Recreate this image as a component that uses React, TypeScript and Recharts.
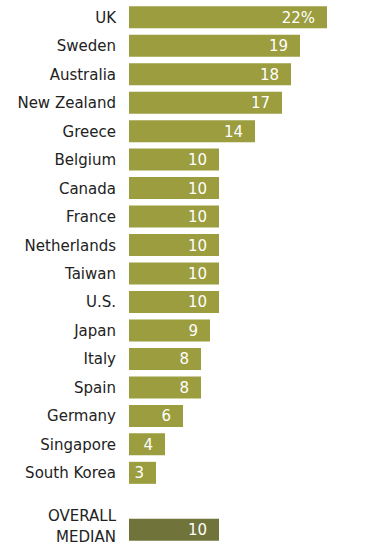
import React from 'react';
import { BarChart, Bar, XAxis, YAxis, Cell, LabelList } from 'recharts';

const countries = [
  'UK', 'Sweden', 'Australia', 'New Zealand', 'Greece', 'Belgium', 'Canada', 'France',
  'Netherlands', 'Taiwan', 'U.S.', 'Japan', 'Italy', 'Spain', 'Germany', 'Singapore',
  'South Korea', '', 'OVERALL MEDIAN',
];
const shares = [22, 19, 18, 17, 14, 10, 10, 10, 10, 10, 10, 9, 8, 8, 6, 4, 3, null, 10];
const valueLabels = ['22%', '19', '18', '17', '14', '10', '10', '10', '10', '10', '10', '9', '8', '8', '6', '4', '3', '', '10'];

const data = countries.map((name, i) => ({ name, value: shares[i], label: valueLabels[i] }));

const FONT = '"DejaVu Sans", sans-serif';

const CountryTick = (props: any) => {
  const { x, y, payload } = props;
  const v: string = payload.value;
  if (v === 'OVERALL MEDIAN') {
    return (
      <text x={x} y={y} textAnchor="end" fill="#222" fontSize={15} fontFamily={FONT}>
        <tspan x={x} dy={-8.5}>OVERALL</tspan>
        <tspan x={x} dy={21}>MEDIAN</tspan>
      </text>
    );
  }
  return (
    <text x={x} y={y} dy={5.5} textAnchor="end" fill="#222" fontSize={15} fontFamily={FONT}>
      {v}
    </text>
  );
};

const ValueLabel = (props: any) => {
  const { x, y, width, height, value } = props;
  if (!value) return null;
  return (
    <text x={x + width - 12} y={y + height / 2} dy={5.5} textAnchor="end" fill="#fff" fontSize={15} fontFamily={FONT}>
      {value}
    </text>
  );
};

export default function App() {
  return (
    <div style={{ position: 'absolute', top: 0, left: 0, background: '#fff' }}>
      <BarChart
        width={373}
        height={549}
        data={data}
        layout="vertical"
        margin={{ top: 3, right: 46, bottom: 5, left: 0 }}
        barCategoryGap={3.25}
      >
        <XAxis type="number" domain={[0, 22]} hide />
        <YAxis
          type="category"
          dataKey="name"
          width={129}
          axisLine={false}
          tickLine={false}
          tickSize={0}
          tickMargin={13}
          interval={0}
          tick={<CountryTick />}
        />
        <Bar dataKey="value" isAnimationActive={false}>
          {data.map((d, i) => (
            <Cell key={i} fill={d.name === 'OVERALL MEDIAN' ? '#70743a' : '#9b9d3e'} />
          ))}
          <LabelList dataKey="label" content={<ValueLabel />} />
        </Bar>
      </BarChart>
    </div>
  );
}
